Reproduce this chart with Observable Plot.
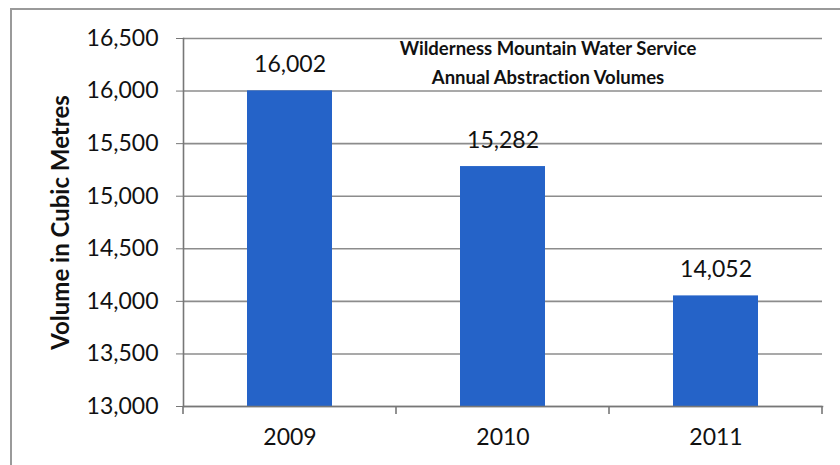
<!DOCTYPE html>
<html>
<head>
<meta charset="utf-8">
<script src="https://cdn.jsdelivr.net/npm/d3@7"></script>
<script src="https://cdn.jsdelivr.net/npm/@observablehq/plot@0.6"></script>
<style>
  html, body { margin: 0; padding: 0; background: #fff; }
  #wrap { position: relative; width: 840px; height: 465px; overflow: hidden; font-family: Lato, "Open Sans", sans-serif; font-variant-ligatures: none; }
  #border { position: absolute; left: 10px; top: 8px; right: -5px; bottom: -5px; border-left: 2px solid #9a9a9a; border-top: 2px solid #9a9a9a; }
  #title { position: absolute; left: 548px; top: 34px; transform: translateX(-50%); text-align: center; font-weight: 700; font-size: 18.5px; line-height: 29px; color: #111; white-space: nowrap; font-variant-ligatures: none; }
  svg { position: absolute; left: 0; top: 0; font-variant-ligatures: none; }
</style>
</head>
<body>
<div id="wrap">
  <div id="border"></div>
  <div id="chart"></div>
  <div id="title">Wilderness Mountain Water Service<br>Annual Abstraction Volumes</div>
</div>
<script>
const years = ["2009", "2010", "2011"];
const volumes = [16002, 15282, 14052];
const yTicks = [13000, 13500, 14000, 14500, 15000, 15500, 16000, 16500];
const yTitle = "Volume in Cubic Metres";

const data = years.map((y, i) => ({year: y, volume: volumes[i]}));
const fmt = d3.format(",");
const FONT = "Lato, 'Open Sans', sans-serif";

const chart = Plot.plot({
  width: 840,
  height: 465,
  marginLeft: 183,
  marginRight: 18,
  marginTop: 38,
  marginBottom: 59,
  style: {fontFamily: FONT, background: "transparent", color: "#111"},
  x: {domain: years, paddingInner: 0.6, paddingOuter: 0.3},
  y: {domain: [13000, 16500]},
  marks: [
    Plot.ruleY(yTicks, {stroke: "#8c8c8c", strokeWidth: 1.6}),
    Plot.barY(data, {x: "year", y1: 13000, y2: "volume", fill: "#2563c8"}),
    Plot.text(data, {x: "year", y: "volume", text: d => fmt(d.volume), lineAnchor: "bottom", dy: -19, fontSize: 23, fill: "#111"}),
    Plot.axisY({ticks: yTicks, tickFormat: fmt, tickSize: 7, tickPadding: 18, fontSize: 23, label: null, stroke: "#777"}),
    Plot.axisX({tickSize: 0, tickPadding: 22, fontSize: 23, label: null}),
    Plot.frame({anchor: "left", stroke: "#777", strokeWidth: 1.6}),
    Plot.frame({anchor: "bottom", stroke: "#777", strokeWidth: 1.6}),
    Plot.text([yTitle], {frameAnchor: "left", dx: -122, rotate: -90, textAnchor: "middle", fontSize: 24, fontWeight: "bold", fill: "#111"})
  ]
});

// Excel-style category-boundary ticks on the x axis, from the Plot x scale
const xs = chart.scale("x");
const gap = (xs.step - xs.bandwidth) / 2;
const bounds = years.map(y => xs.apply(y) - gap).concat([xs.apply(years[years.length - 1]) + xs.bandwidth + gap]);
const yBase = chart.scale("y").apply(13000);
d3.select(chart).append("g")
  .selectAll("line").data(bounds).join("line")
  .attr("x1", d => d).attr("x2", d => d)
  .attr("y1", yBase).attr("y2", yBase + 8)
  .attr("stroke", "#777").attr("stroke-width", 1.6);

document.getElementById("chart").appendChild(chart);
</script>
</body>
</html>
